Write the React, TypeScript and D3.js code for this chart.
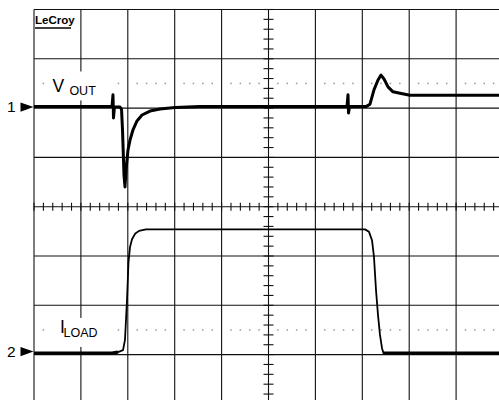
import React, { useEffect, useRef } from 'react'
import * as d3 from 'd3'

// time in divisions, value in divisions relative to channel reference
const voutTime = [
  0, 1.62, 1.663, 1.684, 1.695, 1.716, 1.834, 1.866, 1.887, 1.919, 1.94, 1.962, 2.004, 2.047,
  2.111, 2.196, 2.303, 2.473, 2.687, 3.006, 3.539, 6.631, 6.674, 6.695, 6.706, 6.727, 7.079,
  7.164, 7.249, 7.335, 7.399, 7.463, 7.548, 7.655, 7.804, 8.017, 10
]
const voutValue = [
  0.03, 0.03, 0.03, 0.27, -0.2, 0.03, 0.02, -0.02, -0.44, -1.36, -1.6, -1.26, -0.85, -0.65,
  -0.44, -0.26, -0.14, -0.06, -0.02, 0.01, 0.03, 0.03, 0.03, 0.27, -0.1, 0.03, 0.03,
  0.08, 0.37, 0.57, 0.67, 0.59, 0.43, 0.33, 0.3, 0.26, 0.26
]
const iloadTime = [
  0, 1.663, 1.791, 1.898, 1.94, 1.983, 2.015, 2.047, 2.09, 2.154, 2.239, 2.388, 7.058, 7.143,
  7.207, 7.249, 7.292, 7.335, 7.377, 7.42, 7.452, 10
]
const iloadValue = [
  0.03, 0.03, 0.05, 0.09, 0.3, 1.11, 1.88, 2.18, 2.34, 2.45, 2.51, 2.54, 2.54, 2.49,
  2.32, 1.98, 1.31, 0.8, 0.4, 0.13, 0.03, 0.03
]
const channels = ['1', '2']
const channelOffsets = [2, -3]
const labelMain = ['V', 'I']
const labelSub = ['OUT', 'LOAD']

const W = 499
const H = 400
const FONT = '"Liberation Sans", Arial, sans-serif'

export default function App() {
  const ref = useRef<SVGSVGElement | null>(null)

  useEffect(() => {
    const svg = d3.select(ref.current)
    svg.selectAll('*').remove()

    const x = d3.scaleLinear().domain([0, 10]).range([34, 503])
    const y = d3.scaleLinear().domain([4, -4]).range([9.5, 403.9])

    svg.append('rect').attr('width', W).attr('height', H).attr('fill', '#fff')

    // grid
    const grid = svg.append('g').attr('stroke', '#111').attr('stroke-width', 1.1)
    d3.range(0, 11).forEach(k => {
      grid.append('line')
        .attr('x1', x(k)).attr('x2', x(k))
        .attr('y1', y(4)).attr('y2', y(-4))
    })
    d3.range(-4, 5).forEach(j => {
      grid.append('line')
        .attr('x1', x(0)).attr('x2', x(10))
        .attr('y1', y(j)).attr('y2', y(j))
    })

    // minor ticks on center axes
    d3.range(0, 51).forEach(i => {
      grid.append('line')
        .attr('x1', x(i / 5)).attr('x2', x(i / 5))
        .attr('y1', y(0) - 4).attr('y2', y(0) + 4)
    })
    d3.range(-20, 21).forEach(i => {
      grid.append('line')
        .attr('x1', x(5) - 5).attr('x2', x(5) + 5)
        .attr('y1', y(i / 5)).attr('y2', y(i / 5))
    })

    // dotted level lines
    channelOffsets.forEach(off => {
      d3.range(0, 50).filter(i => i % 5 !== 0).forEach(i => {
        svg.append('rect')
          .attr('x', x(i / 5) - 0.75).attr('y', y(off + 0.5) - 0.75)
          .attr('width', 1.5).attr('height', 1.5)
          .attr('fill', '#999')
      })
    })

    // labels
    const labelY = [y(channelOffsets[0] + 0.5), y(channelOffsets[1] + 0.5)]
    labelY.forEach(ly => {
      svg.append('rect')
        .attr('x', 47).attr('y', ly - 12)
        .attr('width', 67).attr('height', 29)
        .attr('fill', '#fff')
    })
    svg.append('text').attr('x', 52.5).attr('y', labelY[0] + 8.3)
      .attr('font-family', FONT).attr('font-size', 17.5).text(labelMain[0])
    svg.append('text').attr('x', 69.4).attr('y', labelY[0] + 11.6)
      .attr('font-family', FONT).attr('font-size', 12.5).text(labelSub[0])
    svg.append('text').attr('x', 60).attr('y', labelY[1] + 3)
      .attr('font-family', FONT).attr('font-size', 17.5).text(labelMain[1])
    svg.append('text').attr('x', 63.5).attr('y', labelY[1] + 6.7)
      .attr('font-family', FONT).attr('font-size', 12.5).text(labelSub[1])

    // logo
    svg.append('text').attr('x', 35).attr('y', 23.5)
      .attr('font-family', FONT).attr('font-weight', 'bold')
      .attr('font-size', 11.5).text('LeCroy')
    svg.append('line').attr('x1', 35).attr('x2', 71).attr('y1', 28).attr('y2', 28)
      .attr('stroke', '#000').attr('stroke-width', 1.6)

    // traces
    const clip = svg.append('clipPath').attr('id', 'plot')
    clip.append('rect').attr('x', x(0)).attr('y', y(4)).attr('width', x(10) - x(0)).attr('height', y(-4) - y(4))

    const vout = voutTime.map((t, i) => [t, voutValue[i]])
    const iload = iloadTime.map((t, i) => [t, iloadValue[i]])

    const line1 = d3.line<number[]>().x(d => x(d[0])).y(d => y(d[1] + channelOffsets[0]))
    const line2 = d3.line<number[]>().x(d => x(d[0])).y(d => y(d[1] + channelOffsets[1]))

    const traces = svg.append('g').attr('clip-path', 'url(#plot)')
    traces.append('path').attr('d', line1(vout))
      .attr('fill', 'none').attr('stroke', '#000').attr('stroke-width', 3)
      .attr('stroke-linejoin', 'round')
    traces.append('path').attr('d', line2(iload))
      .attr('fill', 'none').attr('stroke', '#000').attr('stroke-width', 1.8)
      .attr('stroke-linejoin', 'round')
    // heavier baseline segments
    const base = iload.filter(d => d[1] < 0.06)
    traces.append('path').attr('d', line2(base.slice(0, 3)))
      .attr('fill', 'none').attr('stroke', '#000').attr('stroke-width', 3.2)
    traces.append('path').attr('d', line2(base.slice(3)))
      .attr('fill', 'none').attr('stroke', '#000').attr('stroke-width', 3.2)

    // channel markers
    channels.forEach((ch, c) => {
      const cy = y(channelOffsets[c]) - (c === 0 ? 1 : 3)
      svg.append('text').attr('x', 7).attr('y', cy + 5.3)
        .attr('font-family', FONT).attr('font-size', 15.5).text(ch)
      svg.append('path')
        .attr('d', `M20.5,${cy - 4.7}L33.5,${cy}L20.5,${cy + 4.7}Z`)
        .attr('fill', '#000')
    })
  }, [])

  return (
    <svg
      ref={ref}
      width={W}
      height={H}
      style={{ position: 'absolute', left: 0, top: 0, display: 'block' }}
    />
  )
}
